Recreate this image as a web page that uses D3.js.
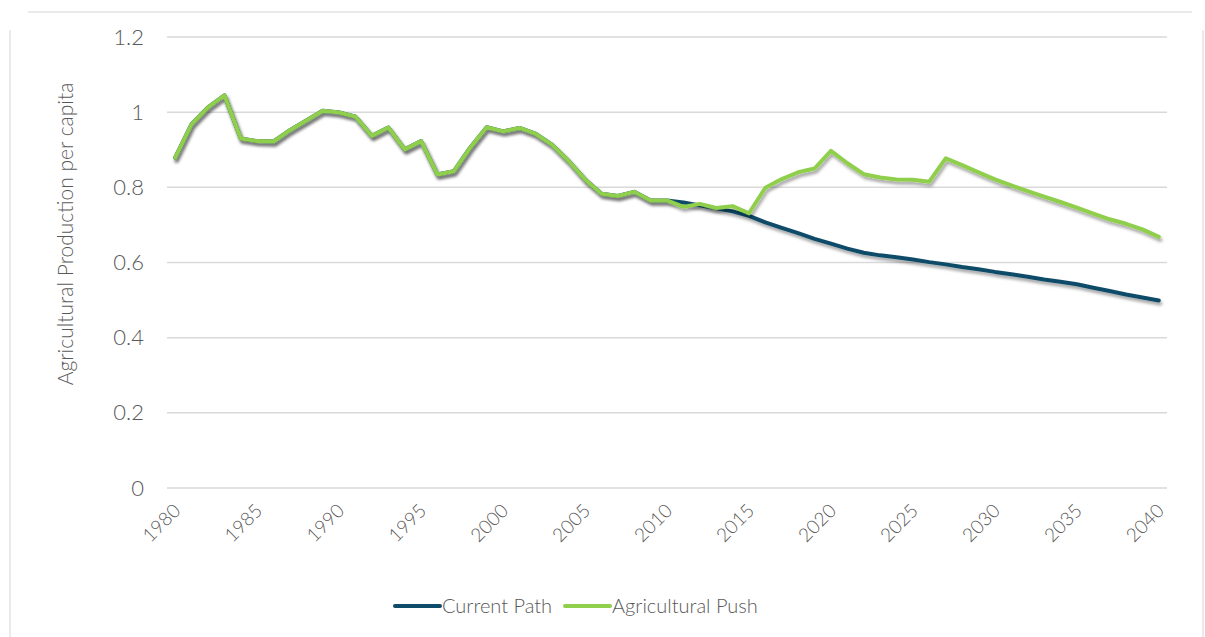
<!DOCTYPE html>
<html lang="en">
<head>
  <meta charset="UTF-8">
  <title>Agricultural Production per capita</title>
  <style>
    * { margin: 0; padding: 0; box-sizing: border-box; }
    body { background: #ffffff; width: 1205px; height: 637px; overflow: hidden; font-family: Lato, "Open Sans", sans-serif; }
    #chart { display: block; }
  </style>
  <script src="https://cdnjs.cloudflare.com/ajax/libs/d3/7.8.5/d3.min.js"></script>
</head>
<body>
  <svg id="chart" width="1205" height="637"></svg>
  <script>
    const years = d3.range(1980, 2041);
    const yTicks = [0, 0.2, 0.4, 0.6, 0.8, 1, 1.2];
    const xTickYears = [1980, 1985, 1990, 1995, 2000, 2005, 2010, 2015, 2020, 2025, 2030, 2035, 2040];

    const currentPath = [
      0.879, 0.968, 1.013, 1.045, 0.930, 0.923, 0.922, 0.952, 0.978, 1.004,
      0.999, 0.988, 0.937, 0.959, 0.901, 0.923, 0.834, 0.843, 0.906, 0.960,
      0.949, 0.958, 0.942, 0.913, 0.870, 0.821, 0.783, 0.777, 0.788, 0.765,
      0.765, 0.760, 0.752, 0.744, 0.736, 0.724, 0.707, 0.692, 0.678, 0.663,
      0.650, 0.637, 0.626, 0.619, 0.614, 0.608, 0.601, 0.595, 0.588, 0.582,
      0.575, 0.569, 0.562, 0.555, 0.549, 0.542, 0.533, 0.524, 0.515, 0.507,
      0.499
    ];
    const agriculturalPush = [
      0.879, 0.968, 1.013, 1.045, 0.930, 0.923, 0.922, 0.952, 0.978, 1.004,
      0.999, 0.988, 0.937, 0.959, 0.901, 0.923, 0.834, 0.843, 0.906, 0.960,
      0.949, 0.958, 0.942, 0.913, 0.870, 0.821, 0.783, 0.777, 0.788, 0.765,
      0.765, 0.748, 0.756, 0.745, 0.750, 0.731, 0.799, 0.822, 0.840, 0.850,
      0.897, 0.864, 0.835, 0.826, 0.821, 0.820, 0.815, 0.877, 0.859, 0.840,
      0.821, 0.805, 0.790, 0.775, 0.761, 0.746, 0.730, 0.715, 0.703, 0.688,
      0.668
    ];

    const series = [
      { name: 'Current Path', values: currentPath, color: '#0f4c69' },
      { name: 'Agricultural Push', values: agriculturalPush, color: '#8fcf4c' }
    ];

    const textColor = '#595959';
    const gridColor = '#d9d9d9';

    const svg = d3.select('#chart');

    // card edges
    const frame = svg.append('g').attr('stroke', '#e3e3e3').attr('stroke-width', 1.5);
    frame.append('line').attr('x1', 28).attr('x2', 1192).attr('y1', 12).attr('y2', 12);
    frame.append('line').attr('x1', 10).attr('x2', 10).attr('y1', 30).attr('y2', 637);
    frame.append('line').attr('x1', 1203).attr('x2', 1203).attr('y1', 30).attr('y2', 637);

    const defs = svg.append('defs');
    defs.append('filter')
      .attr('id', 'shadow')
      .attr('x', '-5%').attr('y', '-5%').attr('width', '110%').attr('height', '120%')
      .append('feDropShadow')
      .attr('dx', 1.5).attr('dy', 3)
      .attr('stdDeviation', 1.5)
      .attr('flood-color', '#000')
      .attr('flood-opacity', 0.35);

    const x = d3.scalePoint()
      .domain(years)
      .range([167, 1167])
      .padding(0.5);

    const y = d3.scaleLinear()
      .domain([0, 1.2])
      .range([488, 37]);

    // gridlines
    svg.append('g')
      .selectAll('line')
      .data(yTicks)
      .join('line')
      .attr('x1', 167).attr('x2', 1167)
      .attr('y1', d => y(d)).attr('y2', d => y(d))
      .attr('stroke', gridColor)
      .attr('stroke-width', 1.5);

    // y axis labels
    const yAxis = d3.axisLeft(y)
      .tickValues(yTicks)
      .tickSize(0)
      .tickPadding(0)
      .tickFormat(d => d3.format('')(+d.toFixed(1)));

    svg.append('g')
      .attr('transform', 'translate(144,0)')
      .call(yAxis)
      .call(g => g.select('.domain').remove())
      .call(g => g.selectAll('text')
        .attr('fill', textColor)
        .style('font-size', '22px')
        .style('font-weight', 300)
        .style('font-family', 'Lato, sans-serif'));

    // x axis labels
    const xAxis = d3.axisBottom(x)
      .tickValues(xTickYears)
      .tickSize(0)
      .tickPadding(0);

    svg.append('g')
      .attr('transform', 'translate(0,488)')
      .call(xAxis)
      .call(g => g.select('.domain').remove())
      .call(g => g.selectAll('text')
        .attr('fill', textColor)
        .attr('y', 0)
        .attr('dy', 0)
        .attr('text-anchor', 'end')
        .attr('transform', 'translate(6,24) rotate(-45)')
        .style('font-size', '19px')
        .style('font-weight', 300)
        .style('font-family', 'Lato, sans-serif'));

    // axis title
    svg.append('text')
      .attr('transform', 'translate(73,234) rotate(-90)')
      .attr('text-anchor', 'middle')
      .attr('fill', textColor)
      .style('font-size', '21px')
      .style('font-weight', 300)
      .text('Agricultural Production per capita');

    // lines
    const line = d3.line()
      .x((d, i) => x(years[i]))
      .y(d => y(d));

    svg.append('g')
      .selectAll('path')
      .data(series)
      .join('path')
      .attr('d', d => line(d.values))
      .attr('fill', 'none')
      .attr('stroke', d => d.color)
      .attr('stroke-width', 4)
      .attr('stroke-linejoin', 'round')
      .attr('stroke-linecap', 'round')
      .attr('filter', 'url(#shadow)');

    // legend
    const legendItems = [
      { name: 'Current Path', color: '#0f4c69', x: 395 },
      { name: 'Agricultural Push', color: '#8fcf4c', x: 565 }
    ];
    const legend = svg.append('g').attr('transform', 'translate(0,606)');
    legendItems.forEach(item => {
      legend.append('line')
        .attr('x1', item.x).attr('x2', item.x + 45)
        .attr('y1', 0).attr('y2', 0)
        .attr('stroke', item.color)
        .attr('stroke-width', 4)
        .attr('stroke-linecap', 'round');
      legend.append('text')
        .attr('x', item.x + 47)
        .attr('y', 0)
        .attr('dy', '0.35em')
        .attr('fill', textColor)
        .style('font-size', '20px')
        .style('font-weight', 300)
        .text(item.name);
    });
  </script>
</body>
</html>
